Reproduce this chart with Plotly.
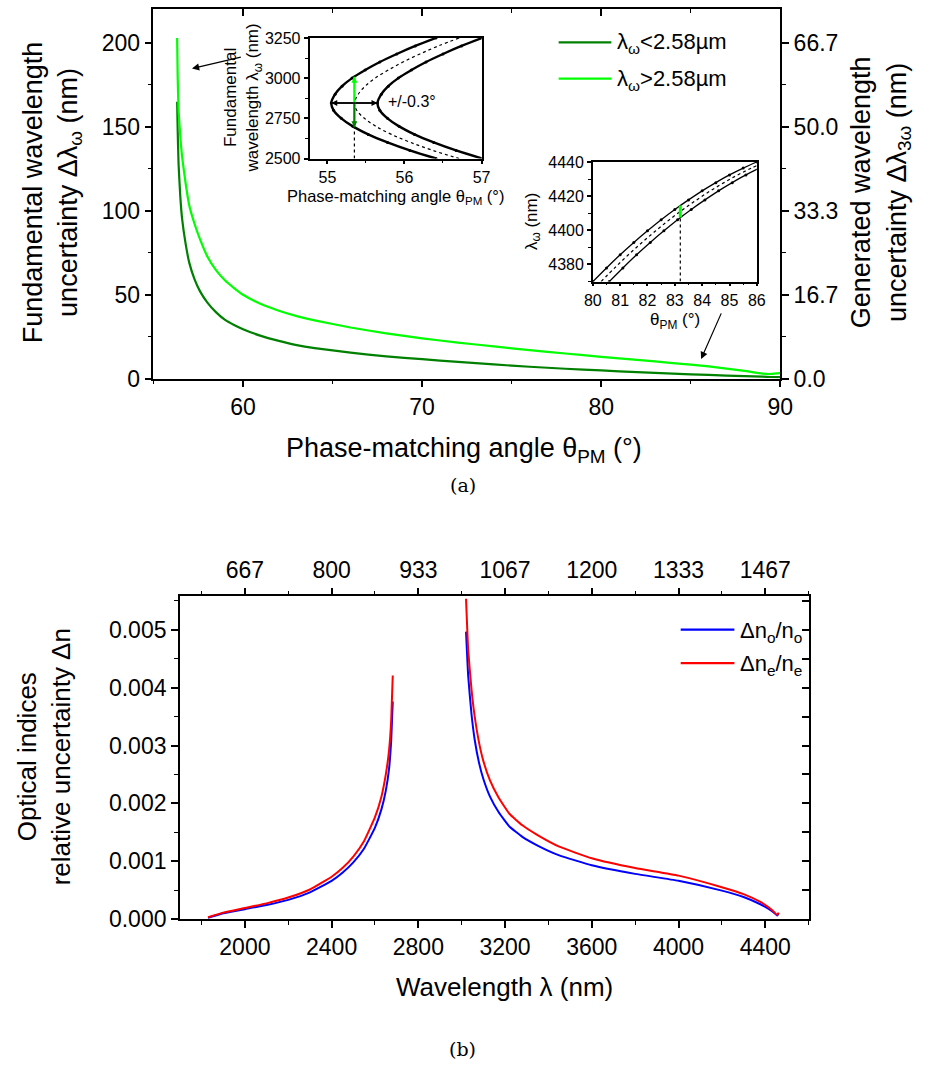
import plotly.graph_objects as go

W, H = 928, 1082
FONT = "Liberation Sans, Arial, sans-serif"
SERIF = "DejaVu Serif, Liberation Serif, serif"

# ---------------- (a) main panel data ----------------
theta_a = [56.32, 56.35, 56.4, 56.5, 56.6, 56.8, 57.0, 57.3, 57.6, 58.0,
           58.5, 59.0, 59.5, 60.0, 61.0, 62.0, 63.0, 64.0, 66.0, 68.0,
           70.0, 72.0, 74.0, 76.0, 78.0, 80.0, 82.0, 84.0, 86.0, 88.0,
           89.0, 89.5, 90.0]
dlam_short = [165, 148, 128, 108, 95, 80, 69, 59, 52, 45.5,
              39.5, 35, 32, 29.5, 25.5, 22.5, 20, 18.2, 15.5, 13.3,
              11.6, 10.0, 8.5, 7.1, 5.9, 4.9, 3.9, 3.0, 2.2, 1.5,
              1.2, 1.0, 0.9]
dlam_long = [203, 180, 160, 144, 132, 116, 103, 92, 83, 73,
             64.5, 58.5, 54, 50, 44.5, 40.5, 37.3, 34.7, 30.5, 27,
             24, 21.5, 19.2, 17, 15, 13, 11.2, 9.3, 7.3, 4.6,
             3.0, 2.8, 3.3]
legend_a = ["λ<sub>ω</sub>&lt;2.58µm", "λ<sub>ω</sub>&gt;2.58µm"]
right_tickvals = [0, 50 / 3, 100 / 3, 50, 200 / 3]
right_ticktext = ["0.0", "16.7", "33.3", "50.0", "66.7"]

# ---------------- inset 1 data ----------------
lam_in1 = [3250, 3200, 3150, 3100, 3050, 3000, 2950, 2900, 2845,
           2800, 2750, 2700, 2650, 2600, 2550, 2500]
th_in1_lo = [56.41, 56.14, 55.90, 55.68, 55.49, 55.32, 55.19, 55.10, 55.05,
             55.08, 55.18, 55.33, 55.53, 55.78, 56.07, 56.41]
th_in1_mid = [56.71, 56.44, 56.20, 55.98, 55.79, 55.62, 55.49, 55.40, 55.35,
              55.38, 55.48, 55.63, 55.83, 56.08, 56.37, 56.71]
th_in1_hi = [57.01, 56.74, 56.50, 56.28, 56.09, 55.92, 55.79, 55.70, 55.65,
             55.68, 55.78, 55.93, 56.13, 56.38, 56.67, 57.01]
in1_theta_sel = [55.35, 55.35]
in1_lam_dot = [2500, 2694]
in1_lam_up = [2845, 3009]
in1_lam_down = [2845, 2694]

# ---------------- inset 2 data ----------------
lam_in2 = [4370, 4378.0, 4385.7, 4392.9, 4399.7, 4406.2, 4412.2,
           4417.8, 4423.1, 4427.9, 4432.4, 4436.4, 4440.0]
th_in2_lo = [80.0, 80.5, 81.0, 81.5, 82.0, 82.5, 83.0, 83.5, 84.0, 84.5, 85.0, 85.5, 86.0]
th_in2_mid = [80.3, 80.8, 81.3, 81.8, 82.3, 82.8, 83.3, 83.8, 84.3, 84.8, 85.3, 85.8, 86.3]
th_in2_hi = [80.6, 81.1, 81.6, 82.1, 82.6, 83.1, 83.6, 84.1, 84.6, 85.1, 85.6, 86.1, 86.6]
in2_theta_sel = [83.2, 83.2]
in2_lam_dot = [4370, 4407.5]
in2_lam_green = [4407.5, 4414.5]

# ---------------- (b) panel data ----------------
lam_b_left = [1830, 1900, 2000, 2100, 2200, 2300, 2400, 2450, 2500, 2550,
              2600, 2630, 2650, 2665, 2675, 2682]
dno_left = [0.00002, 0.00010, 0.00017, 0.00024, 0.00033, 0.00046, 0.00066, 0.00080,
            0.00098, 0.00122, 0.00158, 0.00190, 0.00222, 0.00260, 0.00310, 0.00376]
dne_left = [0.00003, 0.00011, 0.00019, 0.00027, 0.00037, 0.00051, 0.00073, 0.00088,
            0.00108, 0.00135, 0.00176, 0.00212, 0.00250, 0.00292, 0.00345, 0.00421]
lam_b_right = [3020, 3030, 3045, 3060, 3080, 3100, 3130, 3170, 3220, 3280, 3350,
               3450, 3600, 3800, 4000, 4200, 4300, 4380, 4430, 4455, 4462]
dno_right = [0.00497, 0.00420, 0.00355, 0.00310, 0.00270, 0.00242, 0.00212, 0.00185,
             0.00160, 0.00142, 0.00127, 0.00110, 0.00093, 0.00078, 0.00066, 0.00049,
             0.00038, 0.00025, 0.00014, 0.00006, 0.00010]
dne_right = [0.00554, 0.00465, 0.00398, 0.00350, 0.00305, 0.00273, 0.00240, 0.00210,
             0.00182, 0.00162, 0.00145, 0.00125, 0.00105, 0.00088, 0.00075, 0.00055,
             0.00043, 0.00029, 0.00016, 0.00007, 0.00011]
legend_b = ["Δn<sub>o</sub>/n<sub>o</sub>", "Δn<sub>e</sub>/n<sub>e</sub>"]
top_tickvals = [2000, 2400, 2800, 3200, 3600, 4000, 4400]
top_ticktext = ["667", "800", "933", "1067", "1200", "1333", "1467"]

DARK_GREEN = "#008000"
LIGHT_GREEN = "#00FF00"
BLUE = "#0000FF"
RED = "#FF0000"


def px_x(p):
    return p / W


def px_y(p):
    return 1 - p / H


def axis(size=23, **kw):
    d = dict(showline=True, linecolor="black", linewidth=1.5, ticks="outside",
             tickcolor="black", tickwidth=1.5, ticklen=7, showgrid=False,
             zeroline=False, tickfont=dict(family=FONT, size=size, color="black"))
    d.update(kw)
    return d


def minor(**kw):
    d = dict(ticklen=4, tickcolor="black", tickwidth=1.2, showgrid=False)
    d.update(kw)
    return d


fig = go.Figure()

# main curves
fig.add_trace(go.Scatter(x=theta_a, y=dlam_short, mode="lines", name=legend_a[0],
                         line=dict(color=DARK_GREEN, width=2.2, shape="spline", smoothing=0.4),
                         xaxis="x", yaxis="y", showlegend=False))
fig.add_trace(go.Scatter(x=theta_a, y=dlam_long, mode="lines", name=legend_a[1],
                         line=dict(color=LIGHT_GREEN, width=2.2, shape="spline", smoothing=0.4),
                         xaxis="x", yaxis="y", showlegend=False))
# dummy traces so overlay axes get drawn
fig.add_trace(go.Scatter(x=[None], y=[None], xaxis="x", yaxis="y2", showlegend=False, hoverinfo="skip"))
fig.add_trace(go.Scatter(x=[None], y=[None], xaxis="x3", yaxis="y", showlegend=False, hoverinfo="skip"))

# inset 1
for th, dash, w, mk in [(th_in1_lo, "solid", 2.4, True), (th_in1_mid, "dot", 1.2, False),
                        (th_in1_hi, "solid", 2.4, True)]:
    fig.add_trace(go.Scatter(x=th, y=lam_in1, mode="lines+markers" if mk else "lines",
                             line=dict(color="black", width=w, dash=dash, shape="spline"),
                             marker=dict(size=3, color="black"),
                             xaxis="x4", yaxis="y4", showlegend=False))
fig.add_trace(go.Scatter(x=in1_theta_sel, y=in1_lam_dot, mode="lines",
                         line=dict(color="black", width=1.2, dash="dot"),
                         xaxis="x4", yaxis="y4", showlegend=False))
fig.add_trace(go.Scatter(x=in1_theta_sel, y=in1_lam_up, mode="lines",
                         line=dict(color=LIGHT_GREEN, width=2),
                         xaxis="x4", yaxis="y4", showlegend=False))
fig.add_trace(go.Scatter(x=in1_theta_sel, y=in1_lam_down, mode="lines",
                         line=dict(color=DARK_GREEN, width=2),
                         xaxis="x4", yaxis="y4", showlegend=False))
fig.add_trace(go.Scatter(x=[th_in1_lo[8], th_in1_hi[8]], y=[lam_in1[8], lam_in1[8]], mode="lines",
                         line=dict(color="black", width=1.5),
                         xaxis="x4", yaxis="y4", showlegend=False))

# inset 2
for th, dash, w, mk in [(th_in2_lo, "solid", 1.3, True), (th_in2_mid, "dot", 1.2, False),
                        (th_in2_hi, "solid", 1.3, True)]:
    fig.add_trace(go.Scatter(x=th, y=lam_in2, mode="lines+markers" if mk else "lines",
                             line=dict(color="black", width=w, dash=dash, shape="spline"),
                             marker=dict(size=3, color="black"),
                             xaxis="x5", yaxis="y5", showlegend=False))
fig.add_trace(go.Scatter(x=in2_theta_sel, y=in2_lam_dot, mode="lines",
                         line=dict(color="black", width=1.2, dash="dot"),
                         xaxis="x5", yaxis="y5", showlegend=False))
fig.add_trace(go.Scatter(x=in2_theta_sel, y=in2_lam_green, mode="lines",
                         line=dict(color=LIGHT_GREEN, width=3),
                         xaxis="x5", yaxis="y5", showlegend=False))

# panel (b)
for lam, vals, col, nm in [(lam_b_left, dno_left, BLUE, legend_b[0]),
                           (lam_b_right, dno_right, BLUE, legend_b[0]),
                           (lam_b_left, dne_left, RED, legend_b[1]),
                           (lam_b_right, dne_right, RED, legend_b[1])]:
    fig.add_trace(go.Scatter(x=lam, y=vals, mode="lines", name=nm,
                             line=dict(color=col, width=2, shape="spline", smoothing=0.4),
                             xaxis="x6", yaxis="y6", showlegend=False))
fig.add_trace(go.Scatter(x=[None], y=[None], xaxis="x7", yaxis="y6", showlegend=False, hoverinfo="skip"))
fig.add_trace(go.Scatter(x=[None], y=[None], xaxis="x6", yaxis="y8", showlegend=False, hoverinfo="skip"))

main_x_dom = [px_x(148), px_x(790)]
main_y_dom = [px_y(378), px_y(1.5)]
b_x_dom = [px_x(175), px_x(819)]
b_y_dom = [px_y(929), px_y(600)]

fig.update_layout(
    width=W, height=H, autosize=False,
    margin=dict(l=0, r=0, t=0, b=0),
    paper_bgcolor="white", plot_bgcolor="rgba(0,0,0,0)",
    font=dict(family=FONT, color="black"),
    showlegend=False,
    xaxis=axis(domain=main_x_dom, anchor="y", range=[55, 90], tick0=60, dtick=10,
               minor=minor(dtick=5, tick0=55)),
    yaxis=axis(domain=main_y_dom, anchor="x", range=[0, 220], tick0=0, dtick=50,
               minor=minor(dtick=25)),
    yaxis2=axis(overlaying="y", side="right", anchor="x", range=[0, 220 / 3],
                tickmode="array", tickvals=right_tickvals, ticktext=right_ticktext,
                minor=minor(tickmode="array", tickvals=[25 / 3, 25, 125 / 3, 175 / 3])),
    xaxis3=axis(overlaying="x", side="top", anchor="y", range=[55, 90], tick0=60, dtick=10,
                ticks="inside", showticklabels=False, minor=minor(dtick=5, tick0=55, ticks="inside")),
    xaxis4=axis(size=16, domain=[px_x(308), px_x(484)], anchor="y4", range=[54.77, 57], dtick=1,
                linewidth=2, ticklen=3, mirror=True, minor=minor(dtick=0.5, ticklen=2)),
    yaxis4=axis(size=16, domain=[px_y(153.5), px_y(30.5)], anchor="x4", range=[2500, 3250], dtick=250,
                linewidth=2, ticklen=4, mirror=True, minor=minor(dtick=125, ticklen=3)),
    xaxis5=axis(size=16, domain=[px_x(598), px_x(766)], anchor="y5", range=[80, 86], dtick=1,
                linewidth=1.5, ticklen=3, mirror=True, minor=minor(dtick=0.5, ticklen=2)),
    yaxis5=axis(size=16, domain=[px_y(279), px_y(157)], anchor="x5", range=[4370, 4440], dtick=20,
                linewidth=1.5, ticklen=4, mirror=True, minor=minor(dtick=10, ticklen=3)),
    xaxis6=axis(domain=b_x_dom, anchor="y6", range=[1700, 4600], tick0=2000, dtick=400,
                minor=minor(dtick=200, tick0=1800)),
    yaxis6=axis(domain=b_y_dom, anchor="x6", range=[0, 0.00558], dtick=0.001,
                tickformat=".3f", minor=minor(dtick=0.0005)),
    xaxis7=axis(overlaying="x6", side="top", anchor="y6", range=[1700, 4600],
                tickmode="array", tickvals=top_tickvals, ticktext=top_ticktext,
                minor=minor(tickmode="array", tickvals=[1800, 2200, 2600, 3000, 3400, 3800, 4200, 4600])),
    yaxis8=axis(overlaying="y6", side="right", anchor="x6", range=[0, 0.00558], dtick=0.0005,
                ticks="inside", ticklen=7, showticklabels=False),
)

ann = []
shapes = []


def txt(text, x, y, size, angle=0, family=FONT, **kw):
    d = dict(text=text, x=px_x(x), y=px_y(y), xref="paper", yref="paper", showarrow=False,
             textangle=angle, xanchor="center", yanchor="middle",
             font=dict(family=family, size=size, color="black"))
    d.update(kw)
    ann.append(d)


# axis titles and captions
txt("Fundamental wavelength<br>uncertainty Δλ<sub>ω</sub> (nm)", 44, 188, 27, -90)
txt("Generated wavelength<br>uncertainty Δλ<sub>3ω</sub> (nm)", 893, 188, 27, -90)
txt("Phase-matching angle θ<sub>PM</sub> (°)", 466, 451, 27)
txt("(a)", 465, 486, 19, family=SERIF)
txt("Fundamental<br>wavelength λ<sub>ω</sub> (nm)", 240, 92, 17, -90)
txt("Phase-matching angle θ<sub>PM</sub> (°)", 396, 193, 16.5)
txt("λ<sub>ω</sub> (nm)", 536, 218, 17, -90)
txt("θ<sub>PM</sub> (°)", 682, 319, 17)
txt("Optical indices<br>relative uncertainty Δn", 36, 764, 26, -90)
txt("Wavelength λ (nm)", 508, 998, 26)
txt("(b)", 465, 1062, 19, family=SERIF)

# manual legends (a) and (b)
for yy, col, lab in [(35, DARK_GREEN, legend_a[0]), (72, LIGHT_GREEN, legend_a[1])]:
    shapes.append(dict(type="line", xref="paper", yref="paper", x0=px_x(563), x1=px_x(617),
                       y0=px_y(yy), y1=px_y(yy), line=dict(color=col, width=2.2)))
    txt(lab, 621, yy + 1, 22, xanchor="left")
for yy, col, lab in [(634, BLUE, legend_b[0]), (668, RED, legend_b[1])]:
    shapes.append(dict(type="line", xref="paper", yref="paper", x0=px_x(688), x1=px_x(743),
                       y0=px_y(yy), y1=px_y(yy), line=dict(color=col, width=2.2)))
    txt(lab, 747, yy + 2, 22, xanchor="left")

# "+/-0.3°" label inside inset 1
ann.append(dict(text="+/-0.3°", x=56.1, y=2855, xref="x4", yref="y4", showarrow=False,
                font=dict(family=FONT, size=16, color="black")))

# arrows in main plot
ann.append(dict(x=57.15, y=184.8, ax=59.96, ay=191.8, xref="x", yref="y", axref="x", ayref="y",
                showarrow=True, arrowhead=2, arrowsize=1.2, arrowwidth=1.2, arrowcolor="black", text=""))
ann.append(dict(x=85.58, y=11.7, ax=86.74, ay=39.8, xref="x", yref="y", axref="x", ayref="y",
                showarrow=True, arrowhead=2, arrowsize=1.2, arrowwidth=1.2, arrowcolor="black", text=""))
# arrows in inset 1
ann.append(dict(x=in1_theta_sel[0], y=in1_lam_up[1], ax=in1_theta_sel[0], ay=in1_lam_up[0],
                xref="x4", yref="y4", axref="x4", ayref="y4", showarrow=True, arrowhead=2,
                arrowsize=0.8, arrowwidth=1.5, arrowcolor=LIGHT_GREEN, text=""))
ann.append(dict(x=in1_theta_sel[0], y=in1_lam_down[1], ax=in1_theta_sel[0], ay=in1_lam_down[0],
                xref="x4", yref="y4", axref="x4", ayref="y4", showarrow=True, arrowhead=2,
                arrowsize=0.8, arrowwidth=1.5, arrowcolor=DARK_GREEN, text=""))
ann.append(dict(x=th_in1_lo[8], y=lam_in1[8], ax=in1_theta_sel[0], ay=lam_in1[8],
                xref="x4", yref="y4", axref="x4", ayref="y4", showarrow=True, arrowhead=2,
                arrowsize=0.8, arrowwidth=1.5, arrowcolor="black", text=""))
ann.append(dict(x=th_in1_hi[8], y=lam_in1[8], ax=in1_theta_sel[0], ay=lam_in1[8],
                xref="x4", yref="y4", axref="x4", ayref="y4", showarrow=True, arrowhead=2,
                arrowsize=0.8, arrowwidth=1.5, arrowcolor="black", text=""))

fig.update_layout(annotations=ann, shapes=shapes)
fig.write_html("out.html",
               config={"displayModeBar": False, "staticPlot": False},
               post_script="document.body.style.margin='0';document.body.style.padding='0';"
                           "document.body.style.overflow='hidden';")
